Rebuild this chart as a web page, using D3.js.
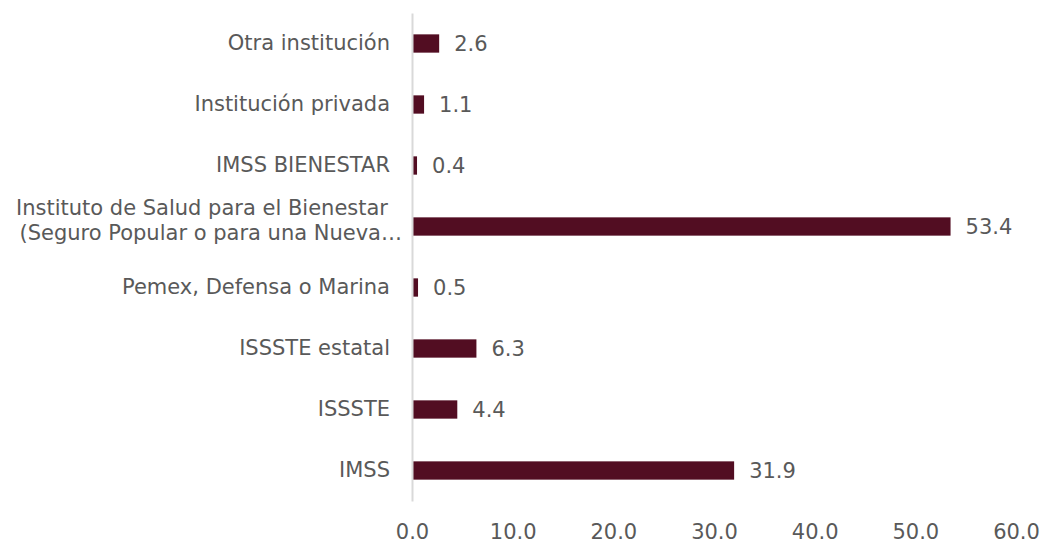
<!DOCTYPE html>
<html lang="es">
<head>
<meta charset="utf-8">
<script src="https://cdnjs.cloudflare.com/ajax/libs/d3/7.8.5/d3.min.js"></script>
<style>
body { margin: 0; background: #fff; }
text { font-family: Verdana, "DejaVu Sans", sans-serif; fill: #595959; }
</style>
</head>
<body>
<script>
var w = 1042, h = 544;

// categories top to bottom
var categories = [
  "Otra institución",
  "Institución privada",
  "IMSS BIENESTAR",
  "Instituto de Salud para el Bienestar|(Seguro Popular o para una Nueva…",
  "Pemex, Defensa o Marina",
  "ISSSTE estatal",
  "ISSSTE",
  "IMSS"
];
var values = [2.6, 1.1, 0.4, 53.4, 0.5, 6.3, 4.4, 31.9];
var xTicks = [0, 10, 20, 30, 40, 50, 60];

var margin = {top: 13, right: 26, bottom: 43, left: 412};
var fs = "21px";

var svg = d3.select("body").append("svg")
  .attr("width", w)
  .attr("height", h);

var xScale = d3.scaleLinear()
  .domain([0, 60])
  .range([margin.left, w - margin.right]);

var yScale = d3.scaleBand()
  .domain(categories)
  .range([margin.top, h - margin.bottom])
  .paddingInner(0.7)
  .paddingOuter(0.35);

// bars
svg.selectAll("rect.bar")
  .data(values)
  .enter()
  .append("rect")
  .attr("class", "bar")
  .attr("x", xScale(0) + 1)
  .attr("y", function(d, i) { return yScale(categories[i]); })
  .attr("width", function(d) { return xScale(d) - xScale(0); })
  .attr("height", yScale.bandwidth())
  .attr("fill", "#520d22");

// value labels
svg.selectAll("text.val")
  .data(values)
  .enter()
  .append("text")
  .attr("class", "val")
  .attr("x", function(d) { return xScale(d) + 16; })
  .attr("y", function(d, i) { return yScale(categories[i]) + yScale.bandwidth() / 2; })
  .attr("dy", "0.35em")
  .attr("font-size", fs)
  .text(function(d) { return d.toFixed(1); });

// category labels
var yAxis = d3.axisLeft(yScale).tickSize(0).tickPadding(22);
var yG = svg.append("g")
  .attr("transform", "translate(" + margin.left + ",0)")
  .call(yAxis);
yG.select(".domain").attr("stroke", "#d9d9d9").attr("stroke-width", 2);
yG.selectAll(".tick text")
  .attr("font-size", fs)
  .attr("font-family", null)
  .attr("fill", null)
  .each(function(d) {
    var parts = d.split("|");
    var t = d3.select(this).text(null);
    if (parts.length > 1) {
      t.append("tspan").attr("x", -24).attr("dy", "-0.55em").text(parts[0]);
      t.append("tspan").attr("x", -10).attr("dy", "1.2em").text(parts[1]);
    } else {
      t.text(parts[0]);
    }
  });

// x axis labels
var xAxis = d3.axisBottom(xScale).tickValues(xTicks).tickSize(0).tickPadding(23)
  .tickFormat(d3.format(".1f"));
var xG = svg.append("g")
  .attr("transform", "translate(0," + (h - margin.bottom) + ")")
  .call(xAxis);
xG.select(".domain").remove();
xG.selectAll(".tick text")
  .attr("font-size", fs)
  .attr("font-family", null)
  .attr("fill", null);
</script>
</body>
</html>
